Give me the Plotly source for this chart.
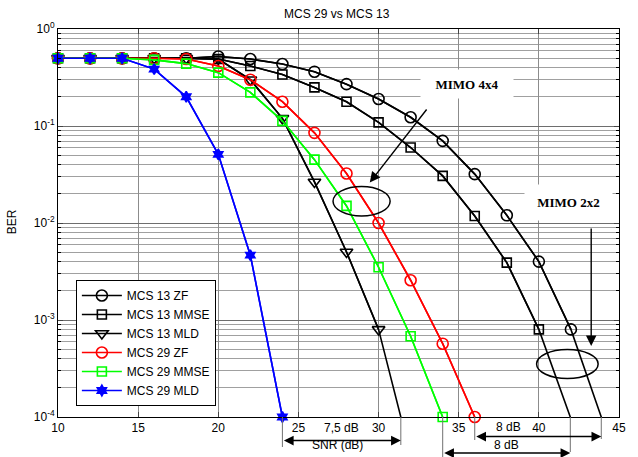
import numpy as np
import plotly.graph_objects as go

# ---------------- data ----------------
snr = [10, 12, 14, 16, 18, 20, 22, 24, 26, 28, 30, 32, 34, 36, 38, 40, 42, 44]

mcs13_zf = [0.5, 0.5, 0.5, 0.5, 0.5, 0.52, 0.49, 0.435, 0.363, 0.27, 0.19, 0.123,
            0.0703, 0.0319, 0.012, 0.0040, 0.00080, 8.9e-5]
mcs13_mmse = [0.5, 0.5, 0.5, 0.5, 0.5, 0.49, 0.415, 0.34, 0.25, 0.178, 0.109, 0.060,
              0.0306, 0.0118, 0.0039, 0.0008, 9.6e-5]
mcs13_mld = [0.5, 0.5, 0.5, 0.5, 0.5, 0.49, 0.30, 0.12, 0.0265, 0.00503, 0.0008, 4.0e-5]
mcs29_zf = [0.5, 0.5, 0.5, 0.5, 0.49, 0.415, 0.30, 0.178, 0.085, 0.0324, 0.010,
            0.00257, 0.00057, 1e-4]
mcs29_mmse = [0.5, 0.5, 0.5, 0.48, 0.44, 0.355, 0.222, 0.113, 0.045, 0.015, 0.0035,
              0.00068, 1e-4]
mcs29_mld = [0.5, 0.5, 0.5, 0.386, 0.20, 0.051, 0.00466, 1e-4]

series_names = ["MCS 13 ZF", "MCS 13 MMSE", "MCS 13 MLD",
                "MCS 29 ZF", "MCS 29 MMSE", "MCS 29 MLD"]
series_values = [mcs13_zf, mcs13_mmse, mcs13_mld, mcs29_zf, mcs29_mmse, mcs29_mld]

x_ticks = [10, 15, 20, 25, 30, 35, 40, 45]
y_ticks = [1e-4, 1e-3, 1e-2, 1e-1, 1]
y_ticktext = ["10<sup>-4</sup>", "10<sup>-3</sup>", "10<sup>-2</sup>",
              "10<sup>-1</sup>", "10<sup>0</sup>"]
BER_FLOOR = 1e-4

# ---------------- styling ----------------
colors = ["black", "black", "black", "#ff0000", "#00ff00", "#0000ff"]
symbols = ["circle-open", "square-open", "triangle-down-open",
           "circle-open", "square-open", "hexagram"]
msizes = [11, 9, 11, 11, 9, 8]

W, H = 638, 457
ML, MR, MT, MB = 58, 15, 29, 40
PW, PH = W - ML - MR, H - MT - MB


def px(xp):
    return (xp - ML) / PW


def py(yp):
    return 1 - (yp - MT) / PH


FONT = "Liberation Sans, Arial, sans-serif"

fig = go.Figure()

# full curves (clipped to the axes box)
for name, vals, c in zip(series_names, series_values, colors):
    fig.add_trace(go.Scatter(
        x=snr[:len(vals)], y=vals, mode="lines",
        line=dict(color=c, width=1.6), showlegend=False, hoverinfo="skip",
        legendgroup=name))

# markers on the in-range points (not clipped, like the original plot)
for name, vals, c, s, ms in zip(series_names, series_values, colors, symbols, msizes):
    xs = [x for x, v in zip(snr, vals) if v >= BER_FLOOR]
    ys = [v for v in vals if v >= BER_FLOOR]
    fig.add_trace(go.Scatter(
        x=xs, y=ys, mode="lines+markers", name=name, legendgroup=name,
        line=dict(color=c, width=1.6), cliponaxis=False,
        marker=dict(symbol=s, size=ms, color=c, line=dict(color=c, width=1.6))))


def floor_crossing(vals):
    """SNR where a curve reaches the 1e-4 BER floor (log-linear)."""
    lv = np.log10(vals)
    lf = np.log10(BER_FLOOR)
    for i in range(1, len(lv)):
        if lv[i] <= lf + 1e-12:
            x0, x1 = snr[i - 1], snr[i]
            return x0 + (x1 - x0) * (lv[i - 1] - lf) / (lv[i - 1] - lv[i])
    return snr[len(vals) - 1]


x_mld29 = floor_crossing(mcs29_mld)
x_mld13 = floor_crossing(mcs13_mld)
x_zf29 = floor_crossing(mcs29_zf)
x_zf13 = floor_crossing(mcs13_zf)
x_mmse29 = floor_crossing(mcs29_mmse)
x_mmse13 = floor_crossing(mcs13_mmse)

shapes = []
annotations = []

# vertical guide lines below the axis
for xv, ybot in [(x_mld29, 447), (x_mld13, 445), (x_zf29, 440), (x_zf13, 439),
                 (x_mmse29, 457), (x_mmse13, 452)]:
    shapes.append(dict(type="line", xref="x", yref="paper", x0=xv, x1=xv,
                       y0=py(417), y1=py(ybot), line=dict(color="#707070", width=1),
                       layer="above"))


def dbl_arrow(xa, xb, yp):
    annotations.append(dict(
        x=xb, y=py(yp), xref="x", yref="paper", ax=xa, ay=0, axref="x",
        ayref="pixel", text="", showarrow=True, arrowside="end+start",
        arrowhead=2, startarrowhead=2, arrowsize=1.5, startarrowsize=1.5,
        arrowwidth=1.3, arrowcolor="black"))


dbl_arrow(x_mld29, x_mld13, 440.5)
dbl_arrow(x_zf29, x_zf13, 436.5)
dbl_arrow(x_mmse29, x_mmse13, 453)

label_font = dict(family=FONT, size=12, color="black")
CTR = dict(xanchor="center", yanchor="middle", showarrow=False)
annotations += [
    dict(x=(x_mld29 + x_mld13) / 2, y=py(428.5), xref="x", yref="paper",
         text="7,5 dB", font=label_font, **CTR),
    dict(x=38.1, y=py(427.5), xref="x", yref="paper",
         text="8 dB", font=label_font, **CTR),
    dict(x=(x_mmse29 + x_mmse13) / 2, y=py(444.5), xref="x", yref="paper",
         text="8 dB", font=label_font, **CTR),
]

# MIMO group labels, pointers and ellipses
serif_bold = dict(family="Liberation Serif, Times New Roman, serif", size=13, color="black")
annotations += [
    dict(x=px(470), y=py(84), xref="paper", yref="paper", text="<b>MIMO 4x4</b>",
         font=serif_bold, bgcolor="white", width=92, height=28, borderpad=0, **CTR),
    dict(x=px(572.5), y=py(203), xref="paper", yref="paper", text="<b>MIMO 2x2</b>",
         font=serif_bold, bgcolor="white", width=87, height=35, borderpad=0, **CTR),
    dict(x=px(372), y=py(182.5), xref="paper", yref="paper", text="", showarrow=True,
         ax=58, ay=-74.5, axref="pixel", ayref="pixel", arrowhead=2, arrowsize=1.5,
         arrowwidth=1.4, arrowcolor="black"),
    dict(x=px(595), y=py(346), xref="paper", yref="paper", text="", showarrow=True,
         ax=0, ay=-119, axref="pixel", ayref="pixel", arrowhead=2, arrowsize=1.5,
         arrowwidth=1.4, arrowcolor="black"),
]
shapes += [
    dict(type="circle", xref="paper", yref="paper", x0=px(335), x1=px(392.5),
         y0=py(216), y1=py(186.5), line=dict(color="black", width=1.5), layer="above"),
    dict(type="circle", xref="paper", yref="paper", x0=px(540), x1=px(602),
         y0=py(378.5), y1=py(349.5), line=dict(color="black", width=1.5), layer="above"),
]

# titles as free text
annotations += [
    dict(x=px(339), y=py(14), xref="paper", yref="paper", text="MCS 29 vs MCS 13",
         font=label_font, **CTR),
    dict(x=px(339), y=py(445), xref="paper", yref="paper", text="SNR (dB)",
         font=label_font, **CTR),
    dict(x=px(12), y=py(222), xref="paper", yref="paper", text="BER", textangle=-90,
         font=label_font, **CTR),
]

minor_vals = [m * 10.0 ** e for e in range(-4, 0) for m in range(2, 10)]

fig.update_layout(
    width=W, height=H,
    margin=dict(l=ML, r=MR, t=MT, b=MB, pad=0),
    paper_bgcolor="white", plot_bgcolor="white",
    font=dict(family=FONT, size=12, color="black"),
    showlegend=True,
    legend=dict(x=px(76), y=py(280), xanchor="left", yanchor="top",
                bgcolor="white", bordercolor="black", borderwidth=1,
                font=dict(family=FONT, size=12, color="black"),
                itemwidth=40, tracegroupgap=0),
    shapes=shapes,
    annotations=annotations,
    xaxis=dict(range=[10, 45], tickvals=x_ticks, ticks="inside", ticklen=5,
               showline=True, linecolor="black", linewidth=1, mirror="allticks",
               showgrid=True, gridcolor="#8c8c8c", gridwidth=1, zeroline=False,
               tickfont=dict(family=FONT, size=12, color="black")),
    yaxis=dict(type="log", range=[-4, 0], tickvals=y_ticks, ticktext=y_ticktext,
               ticks="inside", ticklen=5, showline=True, linecolor="black", linewidth=1,
               mirror="allticks", showgrid=True, gridcolor="#6e6e6e", gridwidth=1,
               zeroline=False, tickfont=dict(family=FONT, size=12, color="black"),
               minor=dict(tickvals=minor_vals, ticks="inside", ticklen=3,
                          tickcolor="black", showgrid=True, gridcolor="#a0a0a0",
                          gridwidth=1)),
)

fig.write_html("out.html")
